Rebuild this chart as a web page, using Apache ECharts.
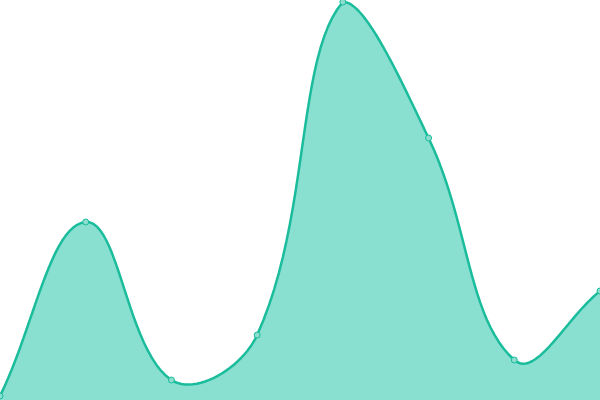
<!DOCTYPE html>
<html>
<head>
<meta charset="utf-8">
<script src="https://cdn.jsdelivr.net/npm/echarts@6/dist/echarts.min.js"></script>
<style>
  html, body { margin: 0; padding: 0; background: #fff; }
  #chart { width: 600px; height: 400px; }
</style>
</head>
<body>
<div id="chart"></div>
<script>
var categories = ['1', '2', '3', '4', '5', '6', '7', '8'];
var values = [4, 178, 20, 65, 398, 262, 40, 109];

var myChart = echarts.init(document.getElementById('chart'));

// spline through the data points (tension 0.4), sampled into a point list
function curvePoints(api, params) {
    var tension = 0.4;
    var r = params.coordSys;
    var p = values.map(function (v, i) {
        return api.coord([i, v]);
    });
    var cp = p.map(function (pt, i) {
        var p0 = p[i - 1] || pt, p2 = p[i + 1] || pt;
        var d01 = Math.hypot(pt[0] - p0[0], pt[1] - p0[1]);
        var d12 = Math.hypot(p2[0] - pt[0], p2[1] - pt[1]);
        var s01 = d01 / (d01 + d12) || 0, s12 = d12 / (d01 + d12) || 0;
        var fa = tension * s01, fb = tension * s12;
        var clamp = function (q) {
            return [Math.min(Math.max(q[0], r.x), r.x + r.width), Math.min(Math.max(q[1], r.y), r.y + r.height)];
        };
        return {
            prev: clamp([pt[0] - fa * (p2[0] - p0[0]), pt[1] - fa * (p2[1] - p0[1])]),
            next: clamp([pt[0] + fb * (p2[0] - p0[0]), pt[1] + fb * (p2[1] - p0[1])])
        };
    });
    var out = [p[0]];
    for (var i = 0; i < p.length - 1; i++) {
        var p1 = p[i], p2 = p[i + 1], c1 = cp[i].next, c2 = cp[i + 1].prev;
        for (var s = 1; s <= 24; s++) {
            var t = s / 24, u = 1 - t;
            out.push([
                u * u * u * p1[0] + 3 * u * u * t * c1[0] + 3 * u * t * t * c2[0] + t * t * t * p2[0],
                u * u * u * p1[1] + 3 * u * u * t * c1[1] + 3 * u * t * t * c2[1] + t * t * t * p2[1]
            ]);
        }
    }
    return out;
}

var option = {
    animation: false,
    grid: { left: 0, right: 0, top: 0, bottom: 0 },
    xAxis: {
        type: 'category',
        boundaryGap: false,
        data: categories,
        show: false
    },
    yAxis: {
        type: 'value',
        min: 0,
        max: 400,
        show: false
    },
    series: [{
        type: 'custom',
        data: [[0, 0]],
        silent: true,
        renderItem: function (params, api) {
            var pts = curvePoints(api, params);
            var base0 = api.coord([0, 0]);
            var base1 = api.coord([values.length - 1, 0]);
            var area = pts.concat([base1, base0]);
            return {
                type: 'group',
                children: [{
                    type: 'polygon',
                    shape: { points: area },
                    style: { fill: '#8ae0d0', stroke: null }
                }, {
                    type: 'polyline',
                    shape: { points: pts },
                    style: { fill: null, stroke: '#1abc9c', lineWidth: 2.5, lineJoin: 'round' }
                }]
            };
        }
    }, {
        type: 'line',
        data: values,
        z: 5,
        symbol: 'circle',
        symbolSize: 6,
        lineStyle: { opacity: 0 },
        itemStyle: { color: '#8cddcd', borderColor: '#1abc9c', borderWidth: 1 }
    }]
};
myChart.setOption(option);
</script>
</body>
</html>
